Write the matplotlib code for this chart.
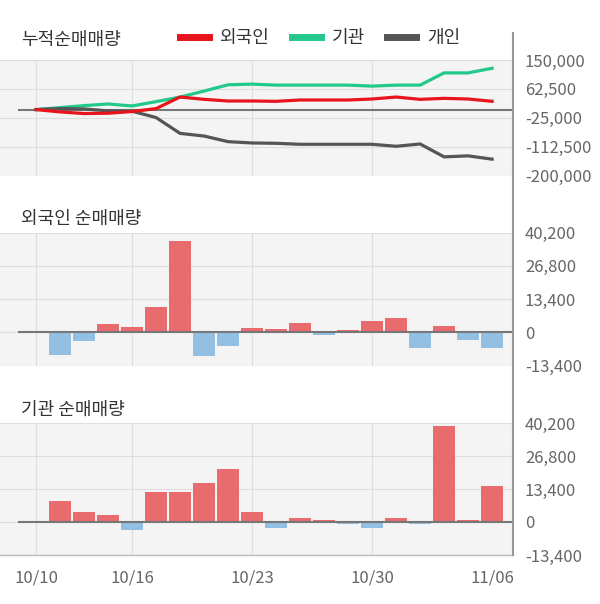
import matplotlib
matplotlib.use("Agg")
import matplotlib.pyplot as plt
from matplotlib.lines import Line2D

plt.rcParams['font.family'] = ['Noto Sans CJK KR', 'DejaVu Sans']
plt.rcParams['axes.unicode_minus'] = False

# ---------------- data ----------------
dates = ['10/10', '10/11', '10/14', '10/15', '10/16', '10/17', '10/18', '10/21', '10/22', '10/23',
         '10/24', '10/25', '10/28', '10/29', '10/30', '10/31', '11/01', '11/04', '11/05', '11/06']

foreign_cum = [0, -7000, -12000, -11000, -6000, 3000, 38000, 31000, 26000, 26000,
               25000, 29000, 29000, 29000, 32000, 38000, 31000, 34000, 32000, 25000]
institution_cum = [0, 6000, 12000, 17000, 11000, 24000, 38000, 56000, 75000, 77000,
                   74000, 74000, 74000, 74000, 71000, 74000, 74000, 111000, 111000, 125000]
individual_cum = [0, 3000, 2000, -4000, -5000, -24000, -72000, -80000, -97000, -101000,
                  -102000, -105000, -105000, -105000, -105000, -111000, -104000, -143000, -140000, -150000]

foreign_daily = [0, -9000, -3300, 3300, 2000, 10200, 36700, -9400, -5300, 1600,
                 1200, 3700, -1200, 800, 4500, 5700, -6100, 2400, -2900, -6400]
institution_daily = [0, 8600, 4100, 2900, -3300, 12200, 12200, 15900, 21600, 4100,
                     -2300, 1600, 800, -800, -2300, 1600, -800, 38800, 800, 14700]

cum_ticks = [150000, 62500, -25000, -112500, -200000]
cum_tick_labels = ['150,000', '62,500', '-25,000', '-112,500', '-200,000']
bar_ticks = [40200, 26800, 13400, 0, -13400]
bar_tick_labels = ['40,200', '26,800', '13,400', '0', '-13,400']

x_tick_idx = [0, 4, 9, 14, 19]
x_tick_labels = ['10/10', '10/16', '10/23', '10/30', '11/06']
vgrid_idx = [0, 4, 9, 14]

series_names = ['외국인', '기관', '개인']
titles = ['누적순매매량', '외국인 순매매량', '기관 순매매량']

# ---------------- style ----------------
W, H = 600, 604
BG = '#f4f4f4'
GRID = '#dddddd'
TICK_C = '#666666'
TITLE_C = '#333333'
RED_LINE = '#e8141b'
GREEN_LINE = '#22c98a'
GRAY_LINE = '#555555'
POS_BAR = '#e86b6e'
NEG_BAR = '#93bfe3'
ZERO_C = '#777777'
TICK_FS = 12
TITLE_FS = 13

fig = plt.figure(figsize=(W / 100, H / 100), dpi=100)
fig.patch.set_facecolor('white')

def fx(px):
    return px / W

def fy(py):
    return 1 - py / H

ax_right = 512.5
xlim = (-1.5, 19.85)
x = list(range(len(dates)))

def make_ax(top, bottom):
    ax = fig.add_axes([0, fy(bottom), fx(ax_right), (bottom - top) / H])
    ax.set_facecolor(BG)
    for s in ax.spines.values():
        s.set_visible(False)
    ax.set_xlim(*xlim)
    ax.yaxis.tick_right()
    ax.tick_params(axis='y', length=0, pad=9, labelsize=TICK_FS, labelcolor=TICK_C)
    ax.tick_params(axis='x', length=0)
    ax.grid(axis='y', color=GRID, lw=0.8, zorder=0)
    ax.set_axisbelow(True)
    for v in vgrid_idx:
        ax.axvline(v, color=GRID, lw=0.8, zorder=0.5)
    return ax

# ---- top: cumulative ----
ax1 = make_ax(60, 175.7)
ax1.set_ylim(-200000, 150000)
ax1.set_yticks(cum_ticks)
ax1.set_yticklabels(cum_tick_labels)
ax1.set_xticks([])
ax1.plot([-0.75, xlim[1]], [0, 0], color=ZERO_C, lw=1.5, zorder=1, solid_capstyle='butt')
l1, = ax1.plot(x, foreign_cum, color=RED_LINE, lw=2.3, zorder=3)
l2, = ax1.plot(x, institution_cum, color=GREEN_LINE, lw=2.3, zorder=2)
l3, = ax1.plot(x, individual_cum, color=GRAY_LINE, lw=2.3, zorder=2.5)

# ---- bar panels ----
def bar_panel(top, bottom, values, with_xticks):
    ax = make_ax(top, bottom)
    ax.set_ylim(-13400, 40200)
    ax.set_yticks(bar_ticks)
    ax.set_yticklabels(bar_tick_labels)
    colors = [POS_BAR if v >= 0 else NEG_BAR for v in values]
    ax.bar(x, values, width=0.95, color=colors, zorder=2)
    ax.plot([-0.75, xlim[1]], [0, 0], color=ZERO_C, lw=1.5, zorder=3, solid_capstyle='butt')
    if with_xticks:
        ax.set_xticks(x_tick_idx)
        ax.set_xticklabels(x_tick_labels)
        ax.tick_params(axis='x', pad=10.5, labelsize=TICK_FS, labelcolor=TICK_C)
        ax.spines['bottom'].set_visible(True)
        ax.spines['bottom'].set_color('#bbbbbb')
        ax.spines['bottom'].set_linewidth(1.0)
    else:
        ax.set_xticks([])
    return ax

ax2 = bar_panel(232.5, 365.7, foreign_daily, False)
ax3 = bar_panel(423, 555, institution_daily, True)

# titles
fig.text(fx(21), fy(40), titles[0], fontsize=TITLE_FS, color=TITLE_C, va='center', ha='left')
fig.text(fx(21), fy(219), titles[1], fontsize=TITLE_FS, color=TITLE_C, va='center', ha='left')
fig.text(fx(21), fy(410), titles[2], fontsize=TITLE_FS, color=TITLE_C, va='center', ha='left')

# legend
leg = fig.legend([l1, l2, l3], series_names, loc='center', bbox_to_anchor=(fx(320), fy(38)),
                 ncol=3, frameon=False, fontsize=TITLE_FS, handlelength=1.6, handletextpad=0.6,
                 columnspacing=1.25, borderpad=0, labelcolor=TITLE_C)
for h in leg.legend_handles:
    h.set_linewidth(5)

# right vertical axis line
fig.add_artist(Line2D([fx(ax_right), fx(ax_right)], [fy(33), fy(555)],
                      transform=fig.transFigure, color='#999999', lw=1.5))

fig.savefig('out.png', dpi=100, facecolor='white')
